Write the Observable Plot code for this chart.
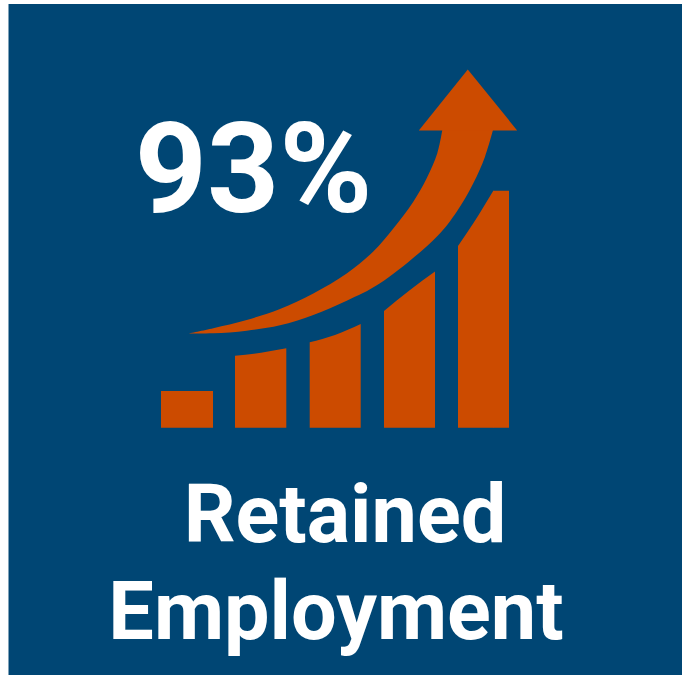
<!DOCTYPE html>
<html>
<head>
<meta charset="utf-8">
<script src="https://cdn.jsdelivr.net/npm/d3@7"></script>
<script src="https://cdn.jsdelivr.net/npm/@observablehq/plot@0.6"></script>
<style>html,body{margin:0;padding:0;background:#fff}svg{display:block}</style>
</head>
<body>
<div id="chart"></div>
<script>
const panelColor = "#004674";
const orange = "#CC4B00";
const baseline = 427.7;

// Bars: picture units (x across, y down)
const bar1X = [161, 213];              const bar1Top = [391, 391];
const bar2X = [235, 261, 286.3];       const bar2Top = [355.8, 352.7, 348.3];
const bar3X = [309.7, 335, 360.7];     const bar3Top = [342.3, 335, 324];
const bar4X = [384, 410, 435];         const bar4Top = [311, 290, 271.5];
const bar5X = [458, 473.3, 493.3];     const bar5Top = [246, 223.3, 190.7];
const bar5CapX = [493, 509];           const bar5CapTop = [190.7, 190.7];

// Arrow shaft edges, paired across its width
const shaftUpperX = [188.3, 213.3, 246.7, 280, 313.3, 346.7, 373.3, 393.3, 413.3, 426.7, 437.3, 442.3];
const shaftUpperY = [333.5, 328.2, 320, 309, 293.5, 273.5, 251.5, 228.5, 201.7, 178.3, 153.3, 130];
const shaftLowerX = [188.3, 213.3, 246.7, 280, 313.3, 346.7, 380, 436.7, 456.7, 473.3, 485, 493];
const shaftLowerY = [333.5, 333.3, 330.7, 325.3, 315, 300.7, 283.3, 236.7, 211.7, 183.3, 156.7, 130];

// Arrow head
const headX = [418.3, 467.3, 516.7];
const headY = [130, 69, 130];

const bars = [[bar1X, bar1Top], [bar2X, bar2Top], [bar3X, bar3Top], [bar4X, bar4Top], [bar5X, bar5Top], [bar5CapX, bar5CapTop]];
const barRows = bars.flatMap(([xs, ys], i) => xs.map((x, j) => ({bar: i, x, top: ys[j]})));
const shaftRows = shaftUpperX.map((x, i) => ({x1: x, y1: shaftUpperY[i], x2: shaftLowerX[i], y2: shaftLowerY[i]}));
const headRows = headX.map((x, i) => ({x, y: headY[i]}));

const font = "Roboto, sans-serif";
const chart = Plot.plot({
  width: 693, height: 675,
  margin: 0,
  x: {domain: [0, 693], range: [0, 693], axis: null},
  y: {domain: [0, 675], range: [0, 675], axis: null},
  marks: [
    Plot.rect([{}], {x1: 8.5, x2: 682, y1: 4, y2: 675, fill: panelColor}),
    Plot.areaY(barRows, {x: "x", y1: () => baseline, y2: "top", z: "bar", fill: orange, curve: "monotone-x"}),
    Plot.area(shaftRows, {x1: "x1", y1: "y1", x2: "x2", y2: "y2", fill: orange, curve: "catmull-rom"}),
    Plot.line(headRows, {x: "x", y: "y", fill: orange, stroke: null}),
    Plot.text(["93%"], {x: () => 253, y: () => 171.5, fontSize: 126, fontWeight: 700, fontFamily: font, fill: "white"}),
    Plot.text(["Retained"], {x: () => 344.5, y: () => 516, fontSize: 81, fontWeight: 700, fontFamily: font, fill: "white"}),
    Plot.text(["Employment"], {x: () => 335.5, y: () => 612.3, fontSize: 81, fontWeight: 700, fontFamily: font, fill: "white"})
  ]
});
document.getElementById("chart").append(chart);
</script>
</body>
</html>
